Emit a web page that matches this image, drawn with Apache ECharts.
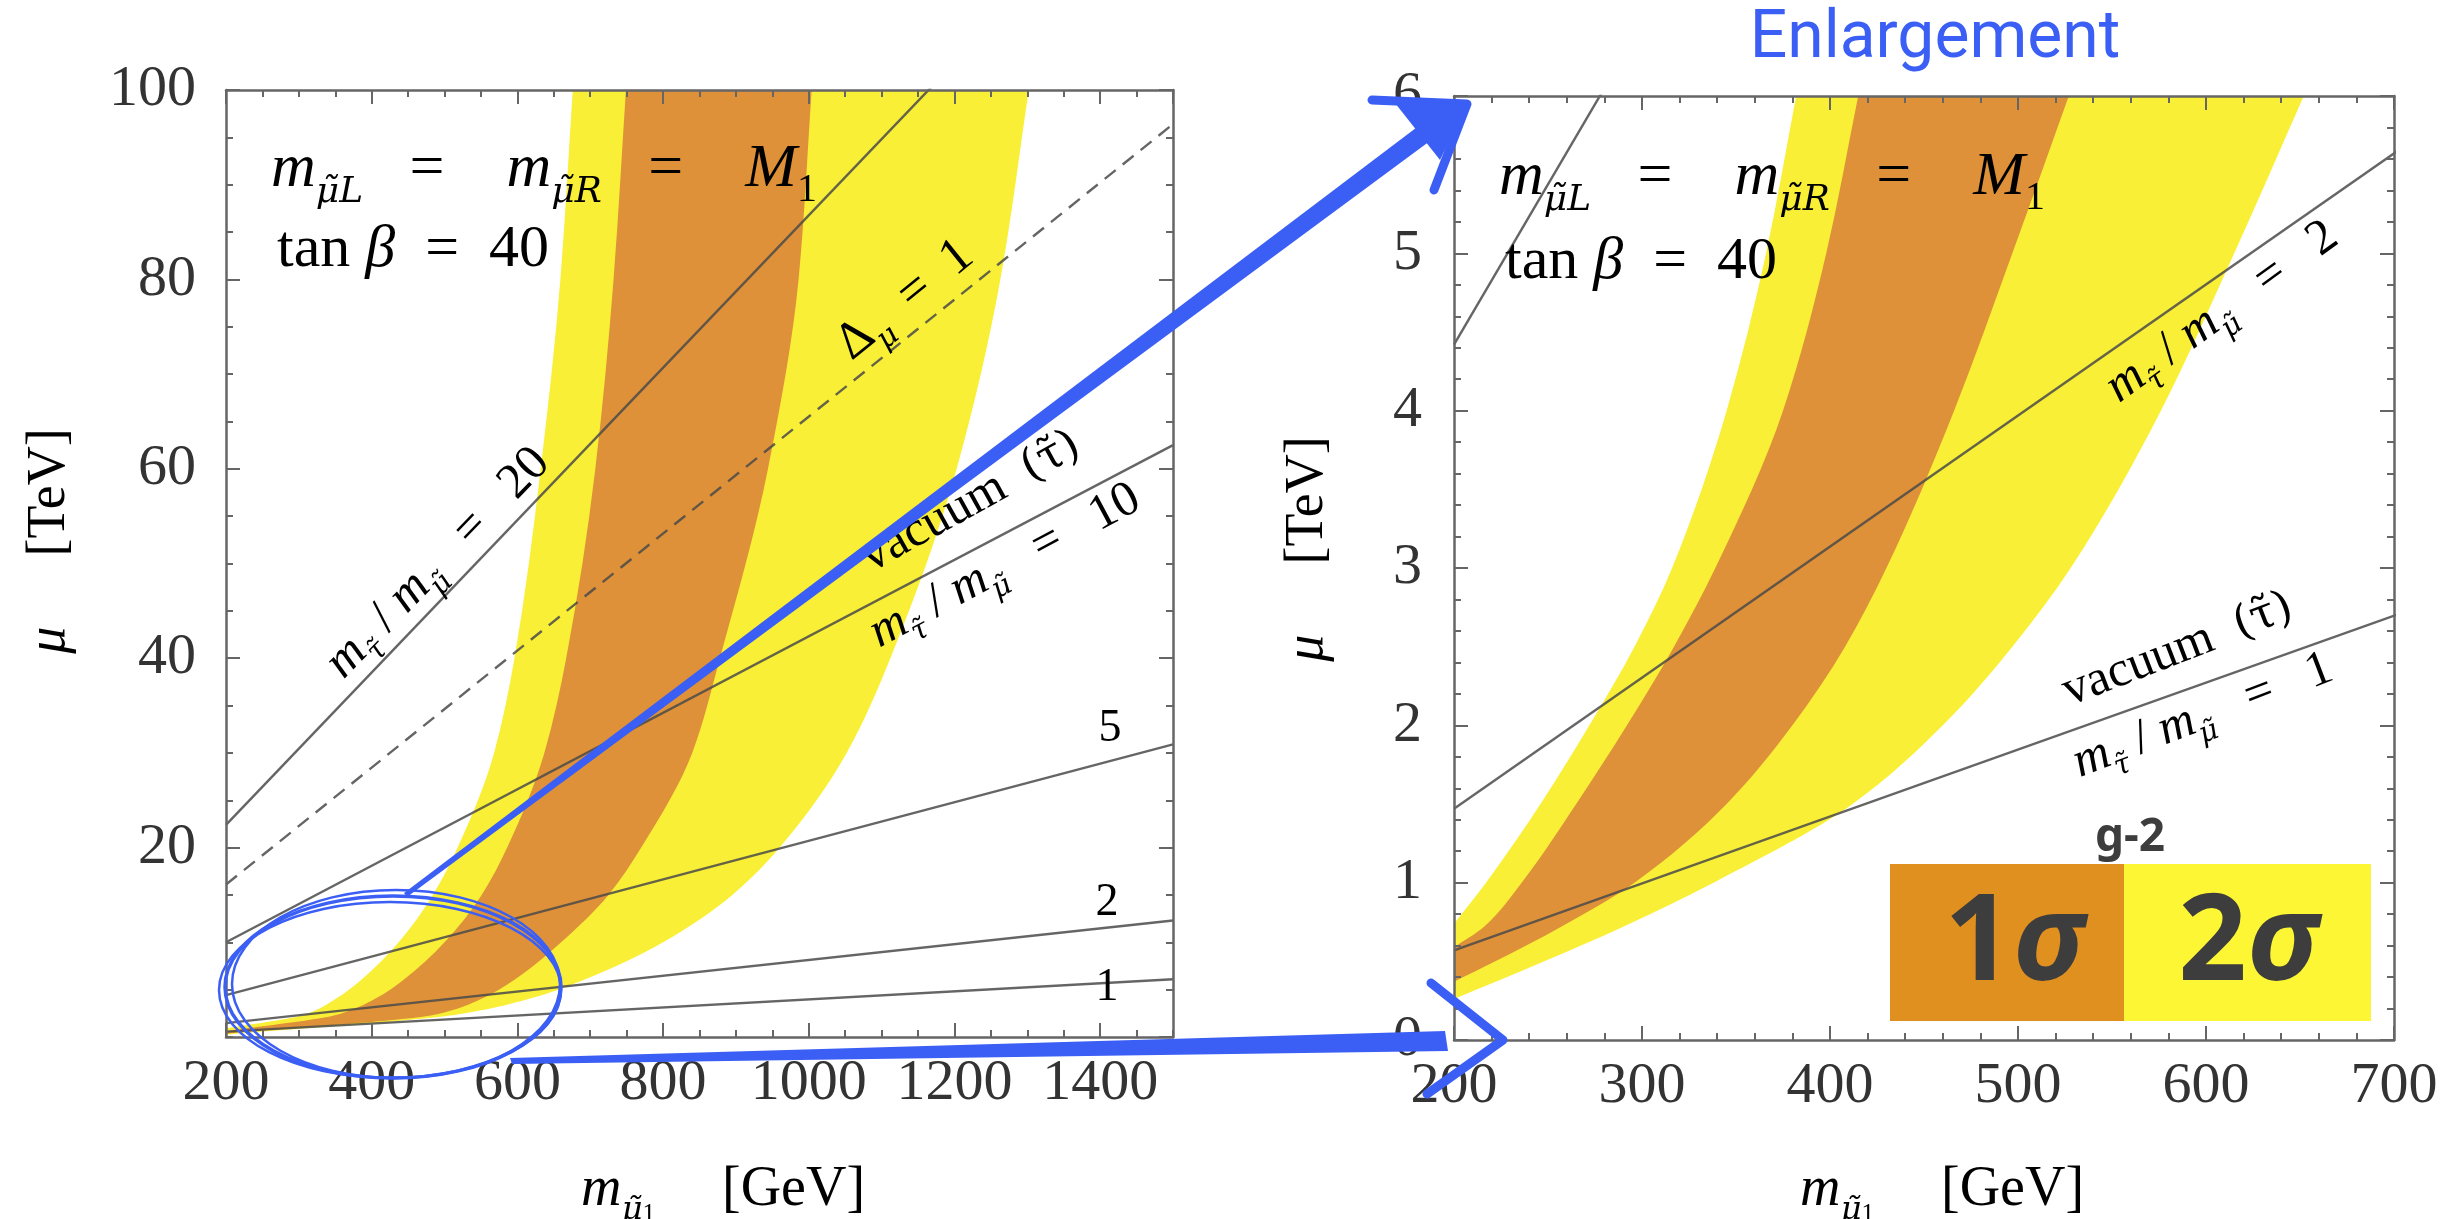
<!DOCTYPE html>
<html>
<head>
<meta charset="utf-8">
<title>g-2 bands</title>
<script src="https://cdn.jsdelivr.net/npm/echarts@6/dist/echarts.min.js"></script>
<style>
  html, body { margin: 0; padding: 0; background: #fff; }
  #chart { width: 2460px; height: 1219px; }
</style>
</head>
<body>
<div id="chart"></div>
<script>
/*
 * g-2 band in the (m_mu1, mu) plane, full view + enlargement
 * points are [m (GeV), mu (TeV)], read off each panel separately
 */
// full view (left panel)
var fullBand2Low = [[200, 0.9], [310, 2.4], [350, 4], [385, 6], [437, 10], [484, 15], [518, 20],
    [568, 30], [596, 40], [632, 60], [659, 80], [676, 100]];
var fullBand2High = [[200, 0.25], [520, 2.4], [615, 4], [690, 6], [800, 10], [895, 15], [960, 20],
    [1052, 30], [1112, 40], [1203, 60], [1263, 80], [1302, 100]];
var fullBand1Low = [[200, 0.6], [355, 2.4], [404, 4], [443, 6], [500, 10], [551, 15], [586, 20],
    [637, 30], [667, 40], [707, 60], [732, 80], [749, 100]];
var fullBand1High = [[200, 0.35], [490, 2.4], [550, 4], [595, 6], [660, 10], [725, 15], [770, 20],
    [840, 30], [878, 40], [944, 60], [986, 80], [1004, 100]];

// enlargement (right panel)
var zoomBand2Low = [[200, 0.74], [217, 1.0], [246, 1.5], [272, 2.0], [296, 2.5], [316, 3.0],
    [345, 4.0], [366, 5.0], [382, 6.0]];
var zoomBand2High = [[200, 0.26], [248, 0.5], [290, 0.72], [338, 1.0], [412, 1.5], [460, 2.0],
    [497, 2.5], [528, 3.0], [576, 4.0], [615, 5.0], [652, 6.0]];
var zoomBand1Low = [[200, 0.59], [216, 0.72], [236, 1.0], [265, 1.5], [292, 2.0], [317, 2.5],
    [339, 3.0], [375, 4.0], [398, 5.0], [415, 6.0]];
var zoomBand1High = [[200, 0.37], [222, 0.5], [257, 0.72], [296, 1.0], [345, 1.5], [380, 2.0],
    [408, 2.5], [430, 3.0], [466, 4.0], [497, 5.0], [527, 6.0]];

// m_stau / m_smu contours and the Delta_mu = 1 line
var ratio1 = [[200, 0.57], [1500, 6.1]];
var ratio2 = [[200, 1.47], [1500, 12.3]];
var ratio5 = [[200, 4.42], [1500, 30.9]];
var ratio10 = [[200, 10.0], [1500, 62.5]];
var ratio20 = [[200, 22.4], [1500, 127]];
var deltaMu1 = [[200, 16.1], [1500, 96.4]];

var fullRangeX = [200, 1500], fullRangeY = [0, 100];
var zoomRangeX = [200, 700], zoomRangeY = [0, 6];

var SERIF = 'Liberation Serif', MARKED = 'DejaVu Serif';
var YELLOW = '#f9ef36', ORANGE = '#de9138', BLUE = '#3b5ff5';
var FRAME = '#666', LINE = '#4a4a4a', INK = '#333';

var chart = echarts.init(document.getElementById('chart'));

var tickLabel = {
    fontFamily: SERIF, fontSize: 58, color: INK,
    formatter: function (v) { return String(+v.toFixed(2)); }
};

function axesFor(gridIndex, dim, range, major, minor, label) {
    var posA = dim === 'x' ? 'bottom' : 'left';
    var posB = dim === 'x' ? 'top' : 'right';
    function mk(pos, interval, len, lbl, line) {
        return {
            type: 'value', gridIndex: gridIndex, position: pos,
            min: range[0], max: range[1], interval: interval, z: 5,
            axisLine: { show: line, onZero: false, lineStyle: { color: FRAME, width: 2.5 } },
            axisTick: { show: true, inside: true, length: len, lineStyle: { color: FRAME, width: 2 } },
            axisLabel: lbl ? lbl : { show: false },
            splitLine: { show: false }
        };
    }
    return [mk(posA, major, 14, label, true), mk(posA, minor, 7, null, false),
            mk(posB, major, 14, null, true), mk(posB, minor, 7, null, false)];
}

var ext = echarts.util.extend;
var xAxes = axesFor(0, 'x', fullRangeX, 200, 50, ext({ margin: 18, showMaxLabel: false }, tickLabel))
    .concat(axesFor(1, 'x', zoomRangeX, 100, 20, ext({ margin: 18 }, tickLabel)));
var yAxes = axesFor(0, 'y', fullRangeY, 20, 5, ext({ margin: 30, showMinLabel: false }, tickLabel))
    .concat(axesFor(1, 'y', zoomRangeY, 1, 0.2, ext({ margin: 32 }, tickLabel)));

// monotone cubic (x as a function of pixel y) through the edge points
function edgeSegments(P) {
    var n = P.length, h = [], d = [], m = [], segs = [], i;
    for (i = 0; i < n - 1; i++) {
        h.push(P[i + 1][1] - P[i][1]);
        d.push((P[i + 1][0] - P[i][0]) / h[i]);
    }
    m[0] = d[0];
    m[n - 1] = d[n - 2];
    for (i = 1; i < n - 1; i++) {
        if (d[i - 1] * d[i] <= 0) m[i] = 0;
        else m[i] = 3 * (h[i - 1] + h[i]) / ((2 * h[i] + h[i - 1]) / d[i - 1] + (h[i] + 2 * h[i - 1]) / d[i]);
    }
    for (i = 0; i < n - 1; i++) {
        segs.push([
            [P[i][0] + m[i] * h[i] / 3, P[i][1] + h[i] / 3],
            [P[i + 1][0] - m[i + 1] * h[i] / 3, P[i + 1][1] - h[i] / 3]
        ]);
    }
    return segs;
}
function pt(p) { return p[0].toFixed(2) + ' ' + p[1].toFixed(2); }

function band(low, high, color, axisIdx) {
    return {
        type: 'custom', xAxisIndex: axisIdx, yAxisIndex: axisIdx, clip: true, silent: true, z: 1,
        data: [[low[0][0], low[0][1]]],
        renderItem: function (params, api) {
            var L = low.map(function (p) { return api.coord(p); });
            var H = high.map(function (p) { return api.coord(p); });
            var sl = edgeSegments(L), sh = edgeSegments(H), i;
            var path = 'M' + pt(L[0]);
            for (i = 0; i < sl.length; i++) path += ' C' + pt(sl[i][0]) + ' ' + pt(sl[i][1]) + ' ' + pt(L[i + 1]);
            path += ' L' + pt(H[H.length - 1]);
            for (i = sh.length - 1; i >= 0; i--) path += ' C' + pt(sh[i][1]) + ' ' + pt(sh[i][0]) + ' ' + pt(H[i]);
            path += ' Z';
            return { type: 'path', shape: { pathData: path }, style: { fill: color } };
        }
    };
}

function contour(data, axisIdx, dashed) {
    return {
        type: 'line', xAxisIndex: axisIdx, yAxisIndex: axisIdx, data: data, clip: true, z: 3,
        showSymbol: false, silent: true,
        lineStyle: { color: LINE, width: 2.4, opacity: 0.85, type: dashed ? [14, 9] : 'solid' }
    };
}

var series = [
    band(fullBand2Low, fullBand2High, YELLOW, 0),
    band(fullBand1Low, fullBand1High, ORANGE, 0),
    contour(ratio20, 0), contour(deltaMu1, 0, true), contour(ratio10, 0),
    contour(ratio5, 0), contour(ratio2, 0), contour(ratio1, 0),
    band(zoomBand2Low, zoomBand2High, YELLOW, 4),
    band(zoomBand1Low, zoomBand1High, ORANGE, 4),
    contour(ratio5, 4), contour(ratio2, 4), contour(ratio1, 4)
];

// rich text styles for the math labels
function richFor(fs) {
    var sub = Math.round(fs * 0.64);
    return {
        i: { fontFamily: SERIF, fontStyle: 'italic', fontSize: fs, lineHeight: fs * 1.3, color: INK },
        n: { fontFamily: SERIF, fontSize: fs, lineHeight: fs * 1.3, color: INK },
        t: { fontFamily: MARKED, fontSize: fs * 0.9, lineHeight: fs * 1.3, color: INK },
        s: { fontFamily: MARKED, fontStyle: 'italic', fontSize: sub * 0.9, lineHeight: sub * 1.1, verticalAlign: 'bottom', color: INK },
        sn: { fontFamily: SERIF, fontSize: sub, lineHeight: sub * 1.1, verticalAlign: 'bottom', color: INK },
        sg: { fontFamily: MARKED, fontStyle: 'italic', fontSize: sub * 0.9, lineHeight: sub * 1.1, verticalAlign: 'bottom', color: INK },
        ss: { fontFamily: SERIF, fontSize: sub * 0.7, lineHeight: sub * 0.7, verticalAlign: 'bottom', color: INK, padding: [0, Math.round(fs * 1.2), 0, 0] },
        gap: { fontFamily: SERIF, fontStyle: 'italic', fontSize: fs, lineHeight: fs * 1.3, color: INK, padding: [0, Math.round(fs * 1.3), 0, 0] }
    };
}
function mathText(x, y, text, fs, deg, align) {
    return {
        type: 'text', x: x, y: y, rotation: (deg || 0) * Math.PI / 180, z: 10, silent: true,
        style: { text: text, rich: richFor(fs), align: align || 'center', verticalAlign: 'middle' }
    };
}

var mEq = '{i|m}{s|μ̃L}{n|   =    }{i|m}{s|μ̃R}{n|   =    }{i|M}{sn|1}';
var tanB = '{n|tan }{i|β}{n|  =  40}';
var ratioTxt = function (v) { return '{i|m}{s|τ̃}{n| / }{i|m}{s|μ̃}{n|   =   ' + v + '}'; };
var vacTxt = '{n|vacuum  }{t|(τ̃)}';
var xTitle = '{i|m}{sg|μ̃}{ss|1}{n|[GeV]}';

var graphics = [
    // annotations, full view
    mathText(271, 170, mEq, 62, 0, 'left'),
    mathText(277, 250, tanB, 60, 0, 'left'),
    mathText(438, 563, ratioTxt(20), 50, 46),
    mathText(905, 300, '{n|Δ}{s|μ}{n|  =  1}', 52, 39),
    mathText(971, 502, vacTxt, 50, 29),
    mathText(1005, 566, ratioTxt(10), 50, 28),
    mathText(1110, 729, '{n|5}', 46),
    mathText(1107, 903, '{n|2}', 46),
    mathText(1107, 988, '{n|1}', 46),
    // annotations, enlargement
    mathText(1499, 178, mEq, 62, 0, 'left'),
    mathText(1505, 262, tanB, 60, 0, 'left'),
    mathText(2222, 312, ratioTxt(2), 50, 36),
    mathText(2178, 650, vacTxt, 50, 21),
    mathText(2203, 716, ratioTxt(1), 50, 21),
    // axis titles
    mathText(723, 1190, xTitle, 56),
    mathText(1942, 1190, xTitle, 56),
    mathText(50, 541, '{gap|μ}{n|[TeV]}', 54, 90),
    mathText(1308, 549, '{gap|μ}{n|[TeV]}', 54, 90),
    // legend
    { type: 'rect', z: 10, silent: true, shape: { x: 1890, y: 864, width: 234, height: 157 }, style: { fill: '#e0901f' } },
    { type: 'rect', z: 10, silent: true, shape: { x: 2124, y: 864, width: 247, height: 157 }, style: { fill: '#fcf635' } },
    { type: 'text', z: 11, x: 2130, y: 838, style: { text: 'g-2', font: 'bold 46px "Noto Sans"', fill: '#3d3d3d', align: 'center', verticalAlign: 'middle' } },
    { type: 'text', z: 11, x: 2015, y: 946, style: { text: '{d|1}{g|σ}', align: 'center', verticalAlign: 'middle',
        rich: { d: { font: 'bold 120px "Noto Sans"', fill: '#3d3d3d' }, g: { font: 'italic bold 120px "Noto Sans"', fill: '#3d3d3d' } } } },
    { type: 'text', z: 11, x: 2249, y: 946, style: { text: '{d|2}{g|σ}', align: 'center', verticalAlign: 'middle',
        rich: { d: { font: 'bold 120px "Noto Sans"', fill: '#3d3d3d' }, g: { font: 'italic bold 120px "Noto Sans"', fill: '#3d3d3d' } } } },
    // hand-drawn blue marks
    { type: 'text', z: 11, x: 1935, y: 40, style: { text: 'Enlargement', font: '66px Roboto', fill: BLUE, align: 'center', verticalAlign: 'middle' } },
    { type: 'ellipse', z: 12, silent: true, shape: { cx: 393, cy: 987, rx: 168, ry: 91 }, style: { fill: 'none', stroke: BLUE, lineWidth: 3.5 } },
    { type: 'ellipse', z: 12, silent: true, shape: { cx: 396, cy: 984, rx: 164, ry: 94 }, style: { fill: 'none', stroke: BLUE, lineWidth: 2.5 } },
    { type: 'ellipse', z: 12, silent: true, shape: { cx: 390, cy: 990, rx: 171, ry: 88 }, style: { fill: 'none', stroke: BLUE, lineWidth: 2.5 } },
    { type: 'polygon', z: 12, silent: true, shape: { points: [[404, 893], [1445, 106], [1457, 121], [407, 897]] }, style: { fill: BLUE } },
    { type: 'polyline', z: 12, silent: true, shape: { points: [[560, 782], [1450, 118]] }, style: { stroke: BLUE, lineWidth: 3, fill: 'none', opacity: 0.8 } },
    { type: 'polyline', z: 12, silent: true, shape: { points: [[1372, 100], [1467, 104], [1434, 190]] }, style: { stroke: BLUE, lineWidth: 9, lineJoin: 'round', lineCap: 'round', fill: 'none' } },
    { type: 'polygon', z: 12, silent: true, shape: { points: [[1395, 103], [1467, 104], [1440, 160]] }, style: { fill: BLUE } },
    { type: 'polygon', z: 12, silent: true, shape: { points: [[510, 1058], [1445, 1031], [1448, 1051], [512, 1064]] }, style: { fill: BLUE } },
    { type: 'polyline', z: 12, silent: true, shape: { points: [[1431, 983], [1503, 1040], [1427, 1094]] }, style: { stroke: BLUE, lineWidth: 9, lineJoin: 'round', lineCap: 'round', fill: 'none' } }
];

var option = {
    backgroundColor: '#fff',
    animation: false,
    grid: [
        { left: 226, top: 90, width: 947, height: 947, show: false },
        { left: 1454, top: 96, width: 940, height: 944, show: false }
    ],
    xAxis: xAxes,
    yAxis: yAxes,
    series: series,
    graphic: graphics
};
chart.setOption(option);
</script>
</body>
</html>
